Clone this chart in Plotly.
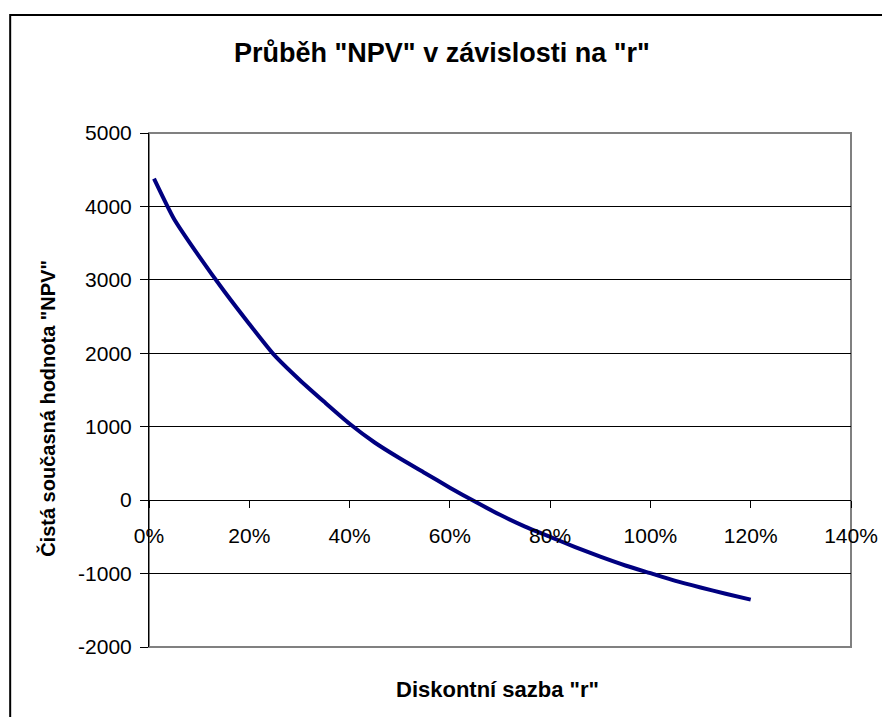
import plotly.graph_objects as go

# Discount rate r (fraction) and NPV
rates = [0.01, 0.05, 0.10, 0.15, 0.20, 0.25, 0.30, 0.35, 0.40, 0.45, 0.50, 0.55,
         0.60, 0.65, 0.70, 0.75, 0.80, 0.85, 0.90, 0.95, 1.00, 1.05, 1.10, 1.15, 1.20]
npv = [4380, 3830, 3320, 2845, 2400, 1975, 1640, 1335, 1040, 785, 570, 370,
       170, -20, -200, -360, -500, -640, -770, -890, -995, -1100, -1190, -1275, -1355]

x_ticks = [0, 0.2, 0.4, 0.6, 0.8, 1.0, 1.2, 1.4]
x_labels = ["0%", "20%", "40%", "60%", "80%", "100%", "120%", "140%"]
y_ticks = [-2000, -1000, 0, 1000, 2000, 3000, 4000, 5000]
y_labels = ["-2000", "-1000", "0", "1000", "2000", "3000", "4000", "5000"]

title_text = 'Průběh "NPV" v závislosti na "r"'
x_title = 'Diskontní sazba "r"'
y_title = 'Čistá současná hodnota "NPV"'

FONT = "Arial, Liberation Sans, sans-serif"

# page body has an 8px margin; work in screen coords and subtract it
OFF = 8
W, H = 890 - OFF, 717 - OFF
L, T = 149 - OFF, 133 - OFF
pw, ph = 708, 514
R = W - L - pw
B = H - T - ph

def px_x(px):
    return (px - OFF - L) / pw

def px_y(py):
    return (T + ph - (py - OFF)) / ph

y_min, y_max = -2000, 5000
zero_pos = (0 - y_min) / (y_max - y_min)

fig = go.Figure()
fig.add_trace(go.Scatter(
    x=rates, y=npv, mode="lines",
    line=dict(color="#000080", width=4, shape="spline", smoothing=0.6),
    showlegend=False, hoverinfo="skip",
))

fig.update_layout(
    width=W, height=H,
    margin=dict(l=L, r=R, t=T, b=B, pad=0),
    paper_bgcolor="white", plot_bgcolor="white",
    font=dict(family=FONT, color="black"),
    showlegend=False,
    xaxis=dict(
        range=[0, 1.4], tickvals=x_ticks, ticktext=x_labels,
        showgrid=False, zeroline=False,
        showline=True, linecolor="black", linewidth=1,
        ticks="outside", ticklen=7, tickcolor="black", tickwidth=1,
        tickfont=dict(size=21, family=FONT, color="black"),
        ticklabelstandoff=10,
        anchor="free", position=zero_pos,
    ),
    yaxis=dict(
        range=[y_min, y_max], tickvals=y_ticks, ticktext=y_labels,
        showgrid=True, gridcolor="black", gridwidth=1,
        zeroline=False,
        showline=True, linecolor="black", linewidth=1,
        ticks="outside", ticklen=8, tickcolor="black", tickwidth=1,
        tickfont=dict(size=21, family=FONT, color="black"),
        ticklabelstandoff=4,
    ),
    shapes=[
        dict(type="rect", xref="paper", yref="paper", x0=0, x1=1, y0=0, y1=1,
             line=dict(color="#808080", width=2), layer="below"),
        dict(type="rect", xref="paper", yref="paper",
             x0=px_x(9), x1=px_x(905), y0=px_y(735), y1=px_y(15),
             line=dict(color="black", width=2), layer="below"),
    ],
    annotations=[
        dict(text="<b>" + title_text + "</b>", xref="paper", yref="paper",
             x=px_x(444), y=px_y(53), showarrow=False,
             xanchor="center", yanchor="middle",
             font=dict(size=27, family=FONT, color="black")),
        dict(text="<b>" + x_title + "</b>", xref="paper", yref="paper",
             x=px_x(500), y=px_y(689), showarrow=False,
             xanchor="center", yanchor="middle",
             font=dict(size=22, family=FONT, color="black")),
        dict(text="<b>" + y_title + "</b>", xref="paper", yref="paper",
             x=px_x(46), y=px_y(408), showarrow=False, textangle=-90,
             xanchor="center", yanchor="middle",
             font=dict(size=20, family=FONT, color="black")),
    ],
)

fig.write_html("out.html")
